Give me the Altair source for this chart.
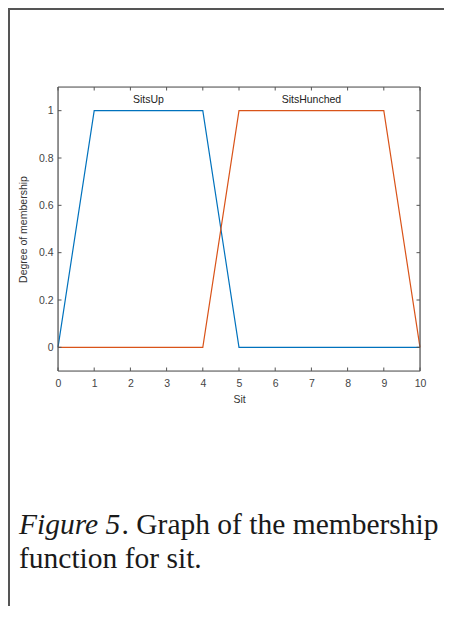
import altair as alt
import pandas as pd

# ---- data ----
sit_x_up = [0, 1, 4, 5, 10]
sits_up = [0, 1, 1, 0, 0]
sit_x_hunched = [0, 4, 5, 9, 10]
sits_hunched = [0, 0, 1, 1, 0]
series_names = ["SitsUp", "SitsHunched"]
series_colors = ["#0072BD", "#D95319"]
label_x = [2.5, 7.0]
label_y = [1.045, 1.045]
x_ticks = [0, 1, 2, 3, 4, 5, 6, 7, 8, 9, 10]
y_ticks = [0, 0.2, 0.4, 0.6, 0.8, 1]
x_title = "Sit"
y_title = "Degree of membership"
caption_italic = "Figure 5"
caption_rest = ". Graph of the membership"
caption_line2 = "function for sit."

W, H = 362, 284
AX = "#555555"

rows = []
for x, y in zip(sit_x_up, sits_up):
    rows.append({"x": x, "y": y, "s": series_names[0], "o": len(rows)})
for x, y in zip(sit_x_hunched, sits_hunched):
    rows.append({"x": x, "y": y, "s": series_names[1], "o": len(rows)})
df = pd.DataFrame(rows)

xs = alt.Scale(domain=[0, 10], nice=False, zero=False)
ys = alt.Scale(domain=[-0.1, 1.1], nice=False, zero=False)

xaxis = alt.Axis(values=x_ticks, title=x_title, domain=False, ticks=False, grid=False,
                 labelOverlap=False, labelFlush=False,
                 labelPadding=7, titlePadding=6, labelFont="Liberation Sans",
                 titleFont="Liberation Sans", labelFontSize=10.5, titleFontSize=10.5,
                 labelColor="#444", titleColor="#333", titleFontWeight="normal")
yaxis = alt.Axis(values=y_ticks, format="~g", title=y_title, domain=False, ticks=False,
                 grid=False, labelOverlap=False, labelFlush=False,
                 labelPadding=5, titlePadding=10, labelFont="Liberation Sans",
                 titleFont="Liberation Sans", labelFontSize=10.5, titleFontSize=10.5,
                 labelColor="#444", titleColor="#333", titleFontWeight="normal")


def X(f):
    return alt.X(f, scale=xs, axis=xaxis)


def Y(f):
    return alt.Y(f, scale=ys, axis=yaxis)


lines = alt.Chart(df).mark_line(strokeWidth=1.2).encode(
    x=X("x:Q"),
    y=Y("y:Q"),
    color=alt.Color("s:N", scale=alt.Scale(domain=series_names, range=series_colors), legend=None),
    order="o:Q",
    detail="s:N",
)

lab_df = pd.DataFrame({"x": label_x, "y": label_y, "t": series_names})
labels = alt.Chart(lab_df).mark_text(font="Liberation Sans", fontSize=10.5, color="#222",
                                      baseline="middle", align="center").encode(
    x=X("x:Q"), y=Y("y:Q"), text="t:N")

xt = pd.DataFrame({"x": x_ticks})
yt = pd.DataFrame({"y": y_ticks})
TL = 3.5
tick_b = alt.Chart(xt).mark_rule(color=AX, strokeWidth=1).encode(
    x=X("x:Q"), y=alt.value(H), y2=alt.value(H - TL))
tick_t = alt.Chart(xt).mark_rule(color=AX, strokeWidth=1).encode(
    x=X("x:Q"), y=alt.value(0), y2=alt.value(TL))
tick_l = alt.Chart(yt).mark_rule(color=AX, strokeWidth=1).encode(
    y=Y("y:Q"), x=alt.value(0), x2=alt.value(TL))
tick_r = alt.Chart(yt).mark_rule(color=AX, strokeWidth=1).encode(
    y=Y("y:Q"), x=alt.value(W), x2=alt.value(W - TL))

one = pd.DataFrame({"k": [0]})
box_l = alt.Chart(one).mark_rule(color=AX, strokeWidth=1.2).encode(
    x=alt.value(0), y=alt.value(0), y2=alt.value(H))
box_r = alt.Chart(one).mark_rule(color=AX, strokeWidth=1.2).encode(
    x=alt.value(W), y=alt.value(0), y2=alt.value(H))
box_t = alt.Chart(one).mark_rule(color=AX, strokeWidth=1.2).encode(
    x=alt.value(0), x2=alt.value(W), y=alt.value(0))
box_b = alt.Chart(one).mark_rule(color=AX, strokeWidth=1.2).encode(
    x=alt.value(0), x2=alt.value(W), y=alt.value(H))

cap1 = alt.Chart(one).mark_text(font="Liberation Serif", fontSize=29.5, fontStyle="italic",
                                 color="#1a1a1a", align="left", baseline="alphabetic").encode(
    x=alt.value(-39), y=alt.value(447), text=alt.value(caption_italic))
cap2 = alt.Chart(one).mark_text(font="Liberation Serif", fontSize=29.5,
                                 color="#1a1a1a", align="left", baseline="alphabetic").encode(
    x=alt.value(-39 + 102.5), y=alt.value(447), text=alt.value(caption_rest))
cap3 = alt.Chart(one).mark_text(font="Liberation Serif", fontSize=29.5,
                                 color="#1a1a1a", align="left", baseline="alphabetic").encode(
    x=alt.value(-39), y=alt.value(481), text=alt.value(caption_line2))

border_l = alt.Chart(one).mark_rule(color="#555", strokeWidth=2).encode(
    x=alt.value(-49), y=alt.value(-78), y2=alt.value(540))
border_t = alt.Chart(one).mark_rule(color="#555", strokeWidth=2).encode(
    x=alt.value(-50), x2=alt.value(386), y=alt.value(-78))

chart = alt.layer(lines, labels, tick_b, tick_t, tick_l, tick_r,
                  box_l, box_r, box_t, box_b, cap1, cap2, cap3,
                  border_l, border_t).properties(
    width=W, height=H,
    autosize=alt.AutoSizeParams(type="none"),
    padding={"left": 50, "top": 79, "right": 24, "bottom": 235},
).configure_view(strokeWidth=0).configure(background="white")

chart.save("out.html", embed_options={"renderer": "svg", "actions": False})
